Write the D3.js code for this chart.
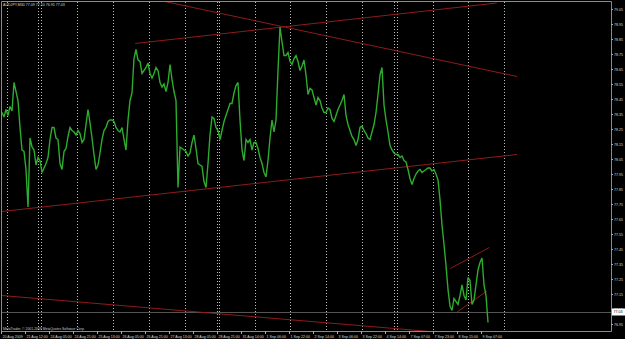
<!DOCTYPE html>
<html>
<head>
<meta charset="utf-8">
<script src="https://cdn.jsdelivr.net/npm/d3@7"></script>
<style>
  html, body { margin: 0; padding: 0; background: #000; }
  svg { display: block; }
  text { font-family: "Liberation Sans", Arial, sans-serif; }
</style>
</head>
<body>
<svg id="chart" width="625" height="339"></svg>
<script>
// time is in hours from 20 Aug 2009 20:00 (trading hours only)
// closes, one sample every 80 minutes
var firstSample = 0.67;
var sampleStep = 80 / 60;
var closes = [
    78.36, 78.33, 78.38, 78.34, 78.40, 78.37, 78.56, 78.50, 78.44, 78.26,
    78.11, 78.10, 77.98, 77.73, 78.19, 78.13, 78.11, 78.01, 78.06, 78.04,
    77.96, 77.99, 78.02, 78.06, 78.18, 78.26, 78.26, 78.19, 78.18, 78.02,
    77.98, 78.10, 78.12, 78.20, 78.26, 78.24, 78.23, 78.21, 78.24, 78.22,
    78.16, 78.18, 78.28, 78.38, 78.29, 78.19, 78.08, 77.98, 78.01, 78.09,
    78.18, 78.24, 78.26, 78.30, 78.31, 78.31, 78.30, 78.26, 78.24, 78.23,
    78.26, 78.18, 78.11, 78.31, 78.44, 78.49, 78.72, 78.78, 78.71, 78.70,
    78.62, 78.64, 78.66, 78.69, 78.62, 78.59, 78.62, 78.66, 78.64, 78.56,
    78.53, 78.55, 78.50, 78.56, 78.68, 78.58, 78.50, 78.44, 77.86, 78.13,
    78.12, 78.11, 78.10, 78.07, 78.09, 78.16, 78.21, 78.12, 78.02, 78.01,
    78.00, 77.90, 77.86, 78.02, 78.21, 78.33, 78.32, 78.26, 78.24, 78.18,
    78.24, 78.30, 78.34, 78.38, 78.42, 78.42, 78.49, 78.54, 78.56, 78.31,
    78.11, 78.04, 78.18, 78.16, 78.18, 78.11, 78.16, 78.16, 78.12, 78.06,
    78.02, 77.96, 77.93, 78.04, 78.19, 78.31, 78.23, 78.31, 78.64, 78.93,
    78.83, 78.74, 78.74, 78.76, 78.70, 78.68, 78.72, 78.74, 78.70, 78.64,
    78.67, 78.71, 78.61, 78.48, 78.52, 78.51, 78.46, 78.41, 78.46, 78.44,
    78.39, 78.36, 78.36, 78.39, 78.38, 78.32, 78.30, 78.34, 78.38, 78.41,
    78.44, 78.48, 78.34, 78.28, 78.24, 78.20, 78.18, 78.14, 78.18, 78.26,
    78.27, 78.24, 78.22, 78.19, 78.18, 78.23, 78.28, 78.36, 78.48, 78.61,
    78.66, 78.41, 78.31, 78.23, 78.14, 78.11, 78.09, 78.08, 78.08, 78.06,
    78.07, 78.04, 78.03, 77.98, 77.92, 77.88, 77.92, 77.95, 77.97, 77.98,
    77.96, 77.97, 77.98, 77.99, 77.99, 77.97, 77.98, 77.95, 77.91, 77.78,
    77.61, 77.48, 77.34, 77.18, 77.07, 77.04, 77.12, 77.10, 77.08, 77.14,
    77.21, 77.14, 77.11, 77.26, 77.24, 77.08, 77.11, 77.21, 77.31, 77.36,
    77.39, 77.21, 77.14, 76.96];

var totalHours = 406.67;
var timeLabels = ["20 Aug 2009", "21 Aug 12:00", "24 Aug 05:00", "24 Aug 21:00", "25 Aug 13:00", "26 Aug 05:00",
    "26 Aug 21:00", "27 Aug 13:00", "28 Aug 05:00", "28 Aug 21:00", "31 Aug 14:00", "1 Sep 06:00", "1 Sep 22:00",
    "2 Sep 14:00", "3 Sep 06:00", "3 Sep 22:00", "4 Sep 14:00", "7 Sep 07:00", "7 Sep 23:00", "8 Sep 15:00", "9 Sep 07:00"];
var labelStep = 16; // hours between time labels
var separators = [4, 25, 27, 51, 75, 98.5, 122.5, 144, 145.5, 169.5, 193, 217, 241, 262, 264, 288, 311.5, 335.5];
var priceTicks = [79.05, 78.95, 78.85, 78.75, 78.65, 78.55, 78.45, 78.35, 78.25, 78.15, 78.05, 77.95, 77.85,
    77.75, 77.65, 77.55, 77.45, 77.35, 77.25, 77.15, 77.05, 76.95];
var bid = 77.03;
var title = "AUDJPY,M30  77.09 77.10 76.95 77.03";

// trend lines: [hour1, price1, hour2, price2]
var trendLines = [
    [89.5, 78.82, 330.5, 79.09],
    [104.5, 79.11, 344, 78.60],
    [0.5, 77.70, 344, 78.08],
    [0.5, 77.14, 286, 76.90],
    [304, 77.03, 324, 77.17],
    [299.5, 77.32, 325.5, 77.46]
];

var svg = d3.select("#chart"),
        plotL = 1, plotR = 611, plotT = 2, plotB = 331;

var x = d3.scaleLinear().domain([0, totalHours]).range([plotL, plotR]);
var y = d3.scaleLinear().domain([76.95, 79.05]).range([324, 9]);

svg.append("rect").attr("width", 625).attr("height", 339).attr("fill", "#000");

svg.append("defs").append("clipPath").attr("id", "plot")
        .append("rect").attr("x", 2).attr("y", plotT).attr("width", plotR - 2).attr("height", plotB - plotT);

var plot = svg.append("g").attr("clip-path", "url(#plot)");

// period separators
plot.selectAll("line.sep").data(separators).enter().append("line")
        .attr("class", "sep")
        .attr("x1", function (d) { return Math.round(x(d)) + 0.5; })
        .attr("x2", function (d) { return Math.round(x(d)) + 0.5; })
        .attr("y1", plotT).attr("y2", plotB)
        .attr("stroke", "#bdbdbd").attr("stroke-width", 1)
        .attr("stroke-dasharray", "1,2");

// bid line
plot.append("line")
        .attr("x1", 2).attr("x2", plotR)
        .attr("y1", Math.round(y(bid)) + 0.5).attr("y2", Math.round(y(bid)) + 0.5)
        .attr("stroke", "#555").attr("stroke-width", 1);

// trend lines
plot.selectAll("line.trend").data(trendLines).enter().append("line")
        .attr("class", "trend")
        .attr("x1", function (d) { return x(d[0]); })
        .attr("y1", function (d) { return y(d[1]); })
        .attr("x2", function (d) { return x(d[2]); })
        .attr("y2", function (d) { return y(d[3]); })
        .attr("stroke", "#8e1b1b").attr("stroke-width", 1);

// price line
var line = d3.line()
        .x(function (d, i) { return x(firstSample + i * sampleStep); })
        .y(function (d) { return y(d); });

plot.append("path")
        .datum(closes)
        .attr("d", line)
        .attr("fill", "none")
        .attr("stroke", "#2dac2d")
        .attr("stroke-width", 1.4)
        .attr("stroke-linejoin", "miter")
        .attr("stroke-miterlimit", 3);

// frame
svg.append("path")
        .attr("d", "M1.5,331.5 L1.5,1.5 L611.5,1.5 L611.5,331.5 L1.5,331.5")
        .attr("fill", "none").attr("stroke", "#8a8a8a").attr("stroke-width", 1);

// price axis
var yAxis = svg.append("g");
priceTicks.forEach(function (p) {
    var yy = Math.round(y(p)) + 0.5;
    yAxis.append("line").attr("x1", 611).attr("x2", 613).attr("y1", yy).attr("y2", yy)
            .attr("stroke", "#aaa");
    yAxis.append("text").attr("x", 614).attr("y", yy)
            .attr("dy", "0.35em")
            .attr("font-size", 3.6).attr("fill", "#d8d8d8")
            .text(p.toFixed(2));
});

// bid box
var by = y(bid);
svg.append("rect").attr("x", 612).attr("y", by - 3.5).attr("width", 13).attr("height", 7).attr("fill", "#fff");
svg.append("text").attr("x", 613.5).attr("y", by).attr("dy", "0.35em")
        .attr("font-size", 3.6).attr("fill", "#000").text(bid.toFixed(2));

// time axis
var xAxis = svg.append("g");
timeLabels.forEach(function (t, i) {
    var xx = Math.round(x(i * labelStep)) + 0.5;
    xAxis.append("line").attr("x1", xx).attr("x2", xx).attr("y1", 331).attr("y2", 334)
            .attr("stroke", "#aaa");
    xAxis.append("text").attr("x", xx + 1).attr("y", 337.5)
            .attr("font-size", 3.6).attr("fill", "#d8d8d8")
            .text(t);
});

// caption texts
svg.append("text").attr("x", 3).attr("y", 5.5).attr("font-size", 3.6).attr("fill", "#d8d8d8").text(title);
svg.append("text").attr("x", 3).attr("y", 330).attr("font-size", 3.4).attr("fill", "#c8c8c8")
        .text("MetaTrader, \u00a9 2001-2009 MetaQuotes Software Corp.");
</script>
</body>
</html>
